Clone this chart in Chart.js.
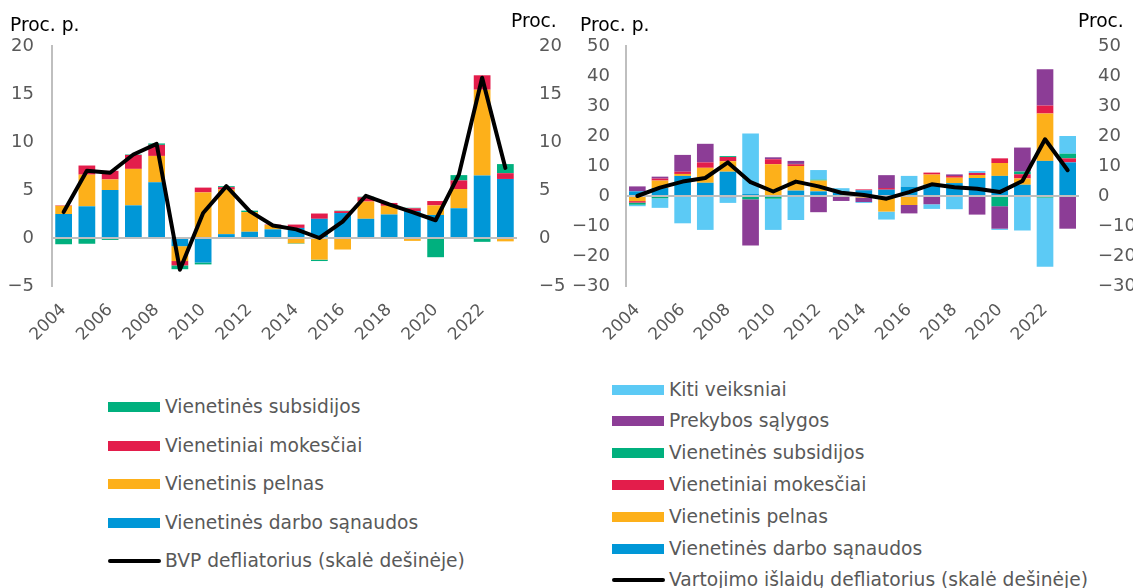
<!DOCTYPE html>
<html>
<head>
<meta charset="utf-8">
<script src="https://cdn.jsdelivr.net/npm/chart.js@4/dist/chart.umd.min.js"></script>
<style>
  html, body { margin: 0; padding: 0; background: #fff; }
  body { width: 1133px; height: 588px; position: relative; overflow: hidden; font-family: "DejaVu Sans", Verdana, sans-serif; }
  .cv { position: absolute; top: 0; }
  .unit { position: absolute; font-size: 18.67px; color: #000; white-space: nowrap; }
  .legend { position: absolute; }
  .item { position: absolute; left: 0; height: 22px; white-space: nowrap; font-size: 18.67px; color: #595959; }
  .sw { position: absolute; left: 0; top: 6px; width: 52px; height: 10px; }
  .swl { position: absolute; left: 0; top: 9px; width: 53px; height: 4px; background: #000; border-radius: 2px; }
  .txt { position: absolute; left: 57px; top: 0; line-height: 22px; }
</style>
</head>
<body>
<div class="cv" style="left:0"><canvas id="c1" width="566" height="350"></canvas></div>
<div class="cv" style="left:566px"><canvas id="c2" width="567" height="350"></canvas></div>
<div class="unit" style="left:10px;top:14px">Proc. p.</div>
<div class="unit" style="left:511px;top:10px">Proc.</div>
<div class="unit" style="left:580px;top:14px">Proc. p.</div>
<div class="unit" style="left:1078px;top:10px">Proc.</div>
<div class="legend" id="lg1" style="left:108px;top:0"></div>
<div class="legend" id="lg2" style="left:612px;top:0"></div>
<script>
// ---------- data ----------
const years = ['2004','2005','2006','2007','2008','2009','2010','2011','2012','2013','2014','2015','2016','2017','2018','2019','2020','2021','2022','2023'];

// Left chart (GDP deflator decomposition)
const leftLabour  = [2.5, 3.3, 5.0, 3.4, 5.8, -0.85, -2.55, 0.4, 0.65, 0.9, 1.05, 2.0, 2.6, 2.0, 2.45, 2.8, 2.4, 3.1, 6.5, 6.15];
const leftProfit  = [0.85, 3.3, 1.1, 3.8, 2.75, -1.55, 4.75, 4.65, 2.05, 0.45, -0.55, -2.25, -1.2, 1.8, 0.9, -0.3, 1.0, 2.0, 8.95, -0.35];
const leftTax     = [0.05, 0.95, 0.9, 1.45, 1.15, -0.45, 0.5, 0.25, -0.1, 0.05, 0.35, 0.55, 0.2, 0.45, 0.3, 0.3, 0.45, 0.9, 1.5, 0.6];
const leftSubs    = [-0.65, -0.6, -0.2, 0.05, 0.15, -0.4, -0.2, 0.1, 0.15, -0.1, -0.05, -0.15, 0.05, 0.05, -0.1, 0.05, -2.0, 0.55, -0.4, 0.95];
const leftDeflator= [2.7, 7.0, 6.8, 8.7, 9.8, -3.3, 2.6, 5.4, 2.8, 1.3, 0.9, 0.0, 1.7, 4.4, 3.5, 2.7, 1.85, 6.6, 16.7, 7.3];
const leftTicks   = [-5, 0, 5, 10, 15, 20];

// Right chart (consumption deflator decomposition)
const rightLabour = [1.55, 2.65, 6.7, 4.4, 8.1, 0.65, -0.3, 1.8, 1.55, 1.2, 1.9, 2.1, 3.1, 3.75, 4.3, 6.0, 6.7, 3.75, 11.7, 11.2];
const rightProfit = [-1.7, 2.5, 0.65, 5.0, 3.5, 0, 10.6, 8.2, 3.6, 0, -0.5, -5.2, -3.0, 3.4, 1.8, 1.0, 4.3, 2.1, 15.8, 0];
const rightTax    = [-0.5, 0.65, 0.75, 1.8, 1.4, 0, 1.65, 0.6, 0, 0, 0.3, 0.55, 0, 0.65, 0.55, 0.7, 1.55, 1.4, 2.65, 1.35];
const rightSubs   = [-0.7, -0.75, 0, 0, 0.3, -1.1, -0.6, 0.1, 0.3, 0, 0, 0, 0, 0, 0, 0, -3.4, 0.9, -0.55, 1.55];
const rightTerms  = [1.65, 0.65, 5.6, 6.2, -0.4, -15.4, 0.65, 1.0, -5.4, -1.65, -1.5, 4.3, -2.8, -2.75, 0.55, -6.2, -7.5, 8.0, 12.1, -10.9];
const rightOther  = [-0.5, -3.2, -9.1, -11.3, -1.9, 20.2, -10.4, -8.0, 3.2, 1.4, -0.3, -2.65, 3.6, -1.55, -4.4, 0.6, -0.4, -11.5, -23.0, 5.9];
const rightDeflator=[0, 2.8, 4.8, 6.0, 11.2, 4.6, 1.5, 4.8, 3.2, 1.1, 0.3, -0.9, 1.3, 3.9, 2.9, 2.4, 1.3, 5.0, 18.9, 8.6];
const rightTicks  = [-30, -20, -10, 0, 10, 20, 30, 40, 50];

// labels
const lblLabour = 'Vienetinės darbo sąnaudos';
const lblProfit = 'Vienetinis pelnas';
const lblTax    = 'Vienetiniai mokesčiai';
const lblSubs   = 'Vienetinės subsidijos';
const lblTerms  = 'Prekybos sąlygos';
const lblOther  = 'Kiti veiksniai';
const lblGdp    = 'BVP defliatorius (skalė dešinėje)';
const lblCons   = 'Vartojimo išlaidų defliatorius (skalė dešinėje)';

// colours
const C = { labour:'#0097d7', profit:'#fdb01a', tax:'#e31d4b', subs:'#00b07e', terms:'#8c3d96', other:'#5ccaf5', line:'#000000' };

Chart.defaults.font.family = '"DejaVu Sans", Verdana, sans-serif';
Chart.defaults.animation = false;

const gray = '#595959';
const axisGray = '#bfbfbf';
const fmt = v => String(v).replace('-', '\u2212');

function bar(label, data, color, bp) {
  return { type:'bar', label, data, backgroundColor:color, borderWidth:0, yAxisID:'y', order:2,
           barPercentage:bp, categoryPercentage:1.0 };
}
function line(label, data) {
  return { type:'line', label, data, borderColor:'#000', borderWidth:4, pointRadius:0, tension:0,
           yAxisID:'y2', order:1, borderCapStyle:'round', borderJoinStyle:'round', fill:false };
}

function makeChart(id, datasets, min, max, step, wLeft, wRight, padL, padR) {
  return new Chart(document.getElementById(id), {
    data: { labels: years, datasets },
    options: {
      responsive:false, devicePixelRatio:1, animation:false,
      layout: { padding: { top:46, left:0, right:0, bottom:0 } },
      plugins: { legend:{ display:false }, tooltip:{ enabled:false } },
      scales: {
        x: {
          stacked:true, offset:true,
          grid:{ display:false }, border:{ display:false },
          ticks:{ autoSkip:false, maxRotation:45, minRotation:45, color:gray, padding:6,
                  font:{ size:17 }, callback:(v,i)=> i%2===0 ? years[i] : '' },
          afterFit: s => { s.height = 350 - 46 - 240; }
        },
        y: {
          stacked:true, position:'left', min, max,
          ticks:{ stepSize:step, color:gray, font:{ size:18 }, padding:padL, callback:v=>fmt(v) },
          grid:{ drawTicks:false, lineWidth:2, color: c => c.tick && c.tick.value===0 ? axisGray : 'rgba(0,0,0,0)' },
          border:{ display:true, color:axisGray, width:2 },
          afterFit: s => { s.width = wLeft; }
        },
        y2: {
          position:'right', min, max,
          ticks:{ stepSize:step, color:gray, font:{ size:18 }, padding:padR, callback:v=>fmt(v) },
          grid:{ display:false, drawTicks:false }, border:{ display:false },
          afterFit: s => { s.width = wRight; }
        }
      }
    }
  });
}

makeChart('c1', [
  bar(lblLabour, leftLabour, C.labour, 0.72),
  bar(lblProfit, leftProfit, C.profit, 0.72),
  bar(lblTax, leftTax, C.tax, 0.72),
  bar(lblSubs, leftSubs, C.subs, 0.72),
  line(lblGdp, leftDeflator)
], leftTicks[0], leftTicks[leftTicks.length-1], leftTicks[1]-leftTicks[0], 52, 49, 18, 22);

makeChart('c2', [
  bar(lblLabour, rightLabour, C.labour, 0.735),
  bar(lblProfit, rightProfit, C.profit, 0.735),
  bar(lblTax, rightTax, C.tax, 0.735),
  bar(lblSubs, rightSubs, C.subs, 0.735),
  bar(lblTerms, rightTerms, C.terms, 0.735),
  bar(lblOther, rightOther, C.other, 0.735),
  line(lblCons, rightDeflator)
], rightTicks[0], rightTicks[rightTicks.length-1], rightTicks[1]-rightTicks[0], 60, 54, 16, 19);

// HTML legends
function legend(id, items, top, gap) {
  const el = document.getElementById(id);
  items.forEach((it, k) => {
    const d = document.createElement('div');
    d.className = 'item';
    d.style.top = (top + k*gap - 11) + 'px';
    d.innerHTML = (it.line ? '<div class="swl"></div>' : '<div class="sw" style="background:'+it.color+'"></div>') +
                  '<div class="txt"></div>';
    d.querySelector('.txt').textContent = it.label;
    el.appendChild(d);
  });
}
legend('lg1', [
  { label:lblSubs, color:C.subs }, { label:lblTax, color:C.tax }, { label:lblProfit, color:C.profit },
  { label:lblLabour, color:C.labour }, { label:lblGdp, line:true }
], 407, 38.6);
legend('lg2', [
  { label:lblOther, color:C.other }, { label:lblTerms, color:C.terms }, { label:lblSubs, color:C.subs },
  { label:lblTax, color:C.tax }, { label:lblProfit, color:C.profit }, { label:lblLabour, color:C.labour },
  { label:lblCons, line:true }
], 389.5, 31.8);
</script>
</body>
</html>
